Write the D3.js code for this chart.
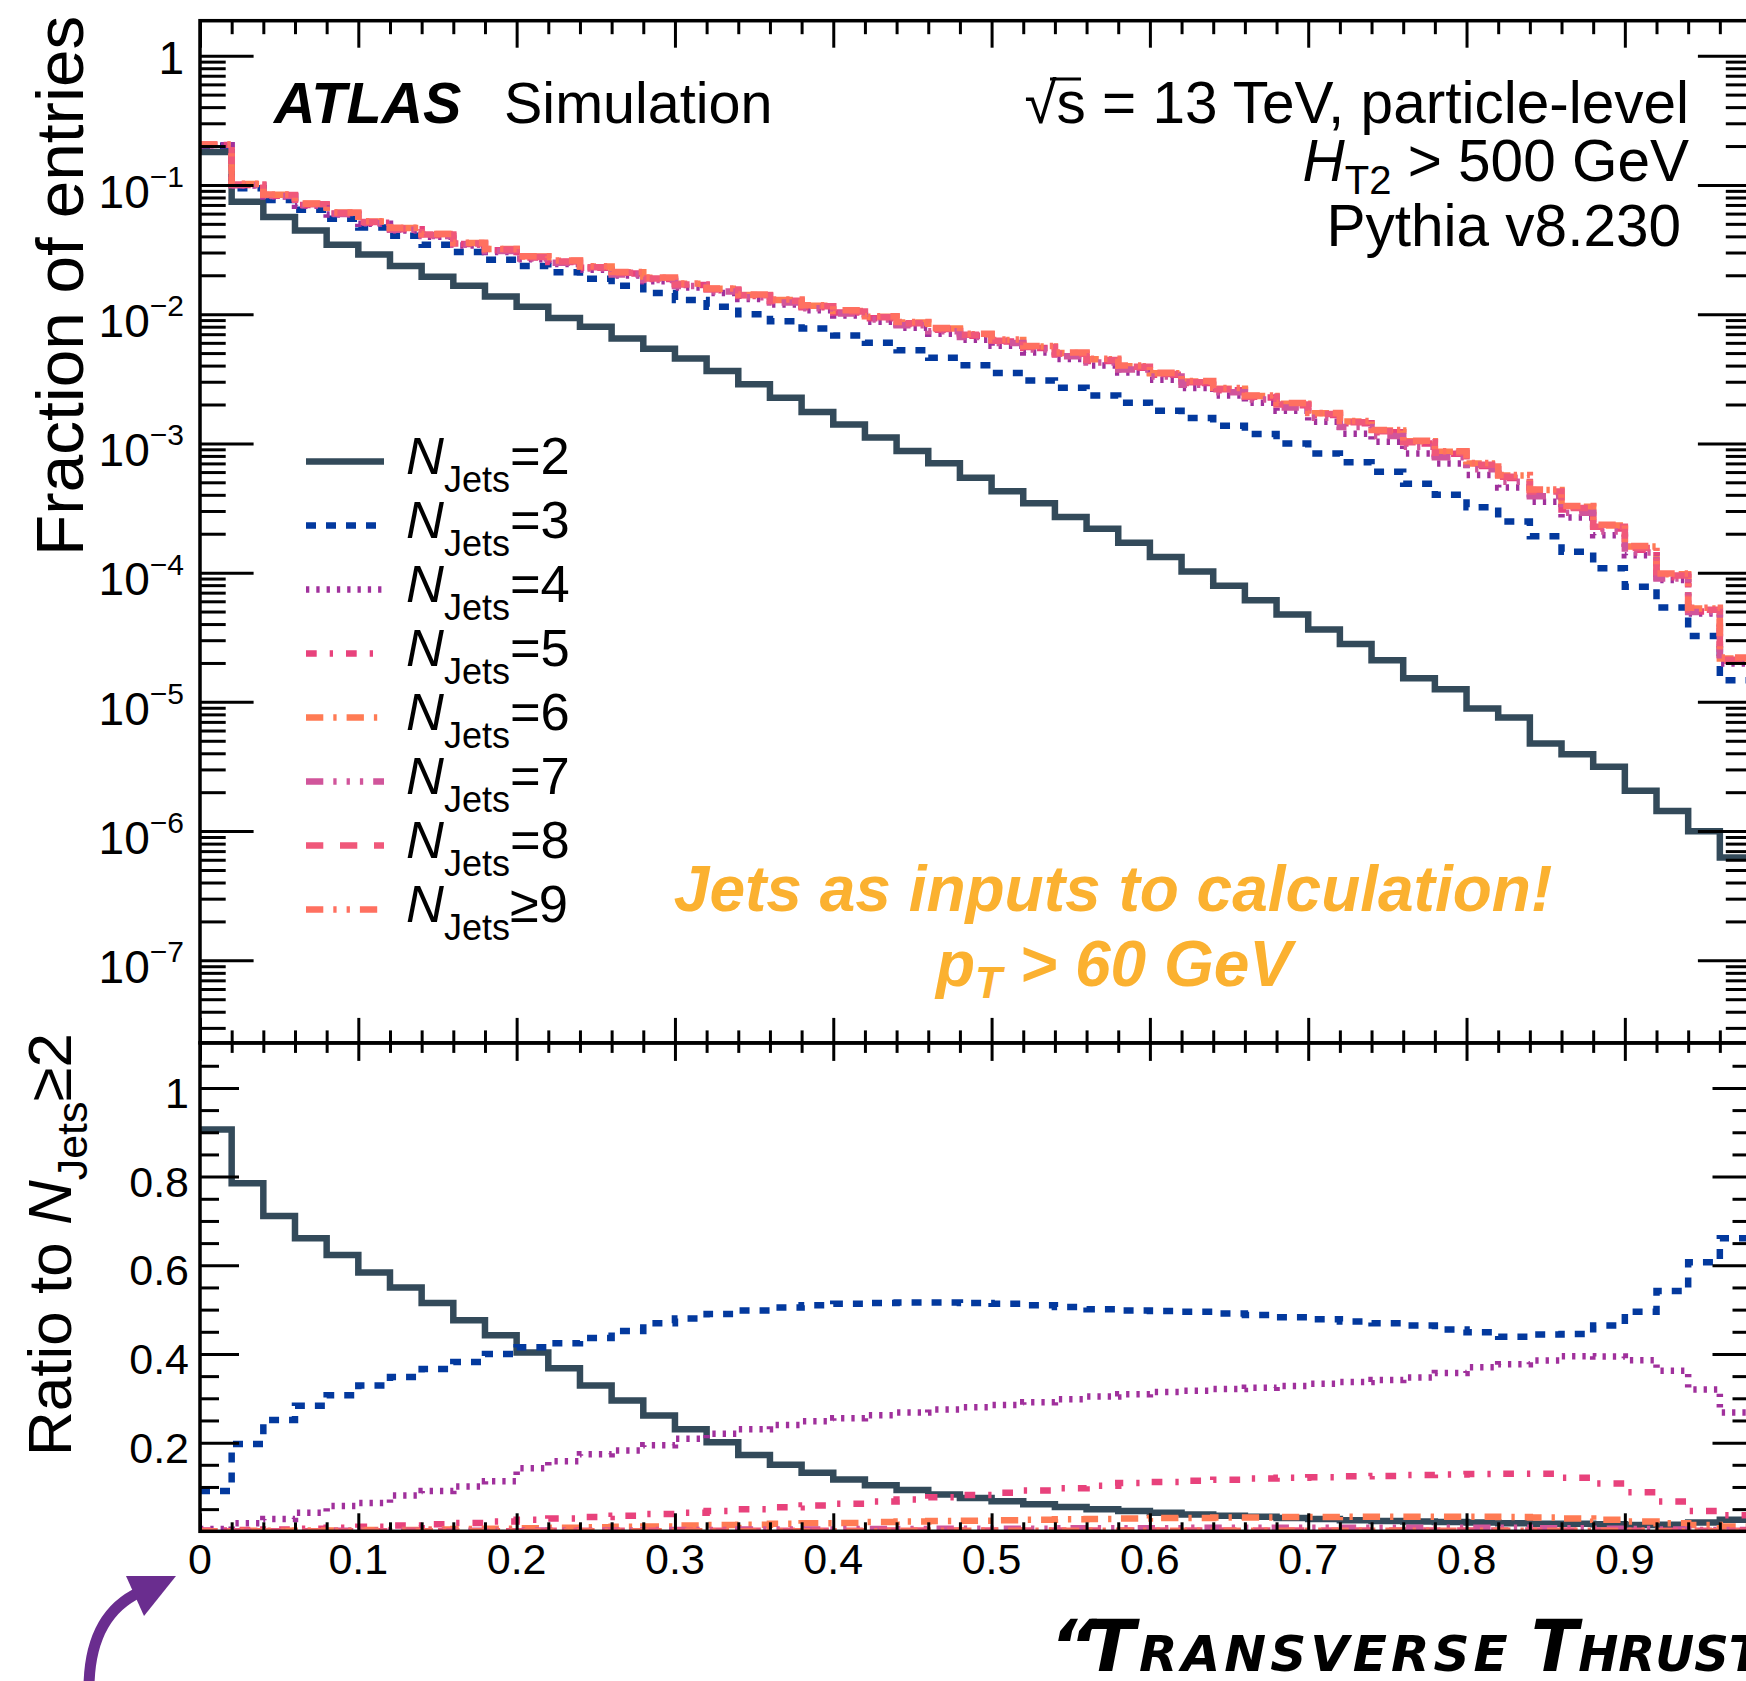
<!DOCTYPE html>
<html><head><meta charset="utf-8">
<script src="https://cdn.jsdelivr.net/npm/d3@7"></script>
<style>
html,body{margin:0;padding:0;background:#fff;}
svg{display:block;}
text{font-family:"Liberation Sans", Arial, Helvetica, sans-serif;fill:#000;}
</style></head><body>
<svg id="c" width="1746" height="1681"></svg>
<script>
// ---------------- DATA ----------------
const binEdges = [0,0.02,0.04,0.06,0.08,0.10,0.12,0.14,0.16,0.18,0.20,0.22,0.24,0.26,0.28,0.30,0.32,0.34,0.36,0.38,0.40,0.42,0.44,0.46,0.48,0.50,0.52,0.54,0.56,0.58,0.60,0.62,0.64,0.66,0.68,0.70,0.72,0.74,0.76,0.78,0.80,0.82,0.84,0.86,0.88,0.90,0.92,0.94,0.96,0.98];

const series = ["NJets=2","NJets=3","NJets=4","NJets=5","NJets=6","NJets=7","NJets=8","NJets>=9"];
const legendNum = ["=2","=3","=4","=5","=6","=7","=8","\u22659"];

// fraction of entries (upper panel)
const frac2 = [0.180,0.0740,0.0566,0.0445,0.0345,0.0290,0.0236,0.0195,0.0166,0.0137,0.0114,0.00935,0.00798,0.00647,0.00541,0.00453,0.00364,0.00287,0.00226,0.00175,0.00140,0.00111,8.73e-4,7.02e-4,5.42e-4,4.27e-4,3.44e-4,2.70e-4,2.19e-4,1.70e-4,1.32e-4,1.02e-4,7.91e-5,6.11e-5,4.74e-5,3.63e-5,2.80e-5,2.10e-5,1.52e-5,1.25e-5,8.89e-6,7.57e-6,4.76e-6,3.94e-6,3.14e-6,2.05e-6,1.43e-6,9.98e-7,6.25e-7];
const frac3 = [0.201,0.0942,0.0764,0.0644,0.0548,0.0468,0.0405,0.0345,0.0303,0.0264,0.0236,0.0211,0.0188,0.0166,0.0146,0.0129,0.0114,0.0100,0.00881,0.00776,0.00684,0.00600,0.00525,0.00459,0.00402,0.00351,0.00307,0.00269,0.00235,0.00206,0.00179,0.00157,0.00137,0.00118,0.00100,8.36e-4,7.16e-4,6.04e-4,4.88e-4,4.00e-4,3.21e-4,2.49e-4,1.91e-4,1.45e-4,1.08e-4,7.76e-5,5.38e-5,3.23e-5,1.47e-5];
const frac4 = [0.203,0.0990,0.0815,0.0690,0.0590,0.0500,0.0445,0.0398,0.0340,0.0303,0.0266,0.0245,0.0221,0.0199,0.0180,0.0161,0.0146,0.0131,0.0119,0.0107,0.00975,0.00875,0.00785,0.00705,0.00635,0.00570,0.00505,0.00450,0.00400,0.00353,0.00311,0.00268,0.00235,0.00206,0.00179,0.00147,0.00119,0.00103,8.37e-4,7.00e-4,5.69e-4,4.56e-4,3.53e-4,2.67e-4,1.95e-4,1.36e-4,8.75e-5,4.83e-5,1.98e-5];
const frac5 = [0.204,0.1000,0.0825,0.0700,0.0600,0.0510,0.0455,0.0408,0.0349,0.0312,0.0274,0.0253,0.0229,0.0206,0.0187,0.0168,0.0153,0.0138,0.0126,0.0113,0.0103,0.00930,0.00840,0.00756,0.00682,0.00615,0.00548,0.00488,0.00435,0.00385,0.00340,0.00293,0.00258,0.00227,0.00197,0.00166,0.00143,0.00122,0.00100,8.30e-4,6.70e-4,5.40e-4,4.15e-4,3.08e-4,2.20e-4,1.50e-4,9.20e-5,5.00e-5,2.08e-5];
const frac6 = [0.205,0.1016,0.0841,0.0716,0.0611,0.0521,0.0465,0.0417,0.0356,0.0319,0.0280,0.0259,0.0234,0.0211,0.0191,0.0172,0.0157,0.0141,0.0129,0.0116,0.0106,0.00955,0.00861,0.00776,0.00700,0.00631,0.00562,0.00501,0.00447,0.00396,0.00349,0.00301,0.00265,0.00233,0.00203,0.00171,0.00148,0.00126,0.00104,8.61e-4,6.98e-4,5.64e-4,4.35e-4,3.24e-4,2.32e-4,1.59e-4,9.73e-5,5.28e-5,2.17e-5];
const frac7 = [0.204,0.0995,0.0820,0.0695,0.0595,0.0505,0.0450,0.0403,0.0345,0.0308,0.0270,0.0250,0.0226,0.0203,0.0184,0.0165,0.0150,0.0135,0.0123,0.0111,0.0101,0.00910,0.00820,0.00738,0.00665,0.00598,0.00532,0.00473,0.00422,0.00373,0.00329,0.00284,0.00249,0.00219,0.00190,0.00158,0.00134,0.00114,9.40e-4,7.80e-4,6.30e-4,5.05e-4,3.90e-4,2.90e-4,2.08e-4,1.43e-4,9.00e-5,4.95e-5,2.05e-5];
const frac8 = [0.205,0.1010,0.0835,0.0710,0.0606,0.0516,0.0461,0.0413,0.0352,0.0316,0.0277,0.0256,0.0231,0.0209,0.0189,0.0170,0.0155,0.0140,0.0127,0.0115,0.0105,0.00945,0.00852,0.00768,0.00692,0.00624,0.00556,0.00495,0.00442,0.00391,0.00345,0.00297,0.00262,0.00230,0.00200,0.00169,0.00146,0.00124,0.00102,8.45e-4,6.85e-4,5.52e-4,4.25e-4,3.16e-4,2.26e-4,1.55e-4,9.50e-5,5.15e-5,2.12e-5];
const frac9 = [0.206,0.1020,0.0845,0.0718,0.0612,0.0523,0.0466,0.0418,0.0357,0.0320,0.0281,0.0260,0.0235,0.0212,0.0192,0.0173,0.0158,0.0142,0.0130,0.0117,0.0107,0.00962,0.00868,0.00782,0.00706,0.00636,0.00567,0.00505,0.00451,0.00400,0.00352,0.00304,0.00268,0.00235,0.00205,0.00172,0.00149,0.00127,0.00105,8.70e-4,7.05e-4,5.70e-4,4.40e-4,3.28e-4,2.35e-4,1.61e-4,9.85e-5,5.35e-5,2.20e-5];

// ratio to NJets>=2 (lower panel)
const ratio2 = [0.906,0.785,0.711,0.661,0.623,0.584,0.550,0.515,0.476,0.442,0.403,0.368,0.329,0.295,0.261,0.230,0.201,0.172,0.150,0.132,0.117,0.104,0.093,0.083,0.075,0.068,0.061,0.055,0.050,0.046,0.042,0.038,0.035,0.033,0.030,0.028,0.025,0.023,0.022,0.021,0.020,0.018,0.017,0.017,0.016,0.014,0.015,0.020,0.026];
const ratio3 = [0.091,0.197,0.251,0.283,0.307,0.329,0.348,0.366,0.382,0.400,0.415,0.424,0.436,0.452,0.469,0.480,0.490,0.498,0.505,0.510,0.513,0.515,0.516,0.516,0.515,0.513,0.510,0.506,0.501,0.498,0.497,0.495,0.491,0.488,0.483,0.478,0.473,0.469,0.464,0.455,0.449,0.439,0.444,0.445,0.464,0.495,0.542,0.607,0.661];
const ratio4 = [0.005,0.018,0.028,0.042,0.057,0.064,0.081,0.091,0.101,0.113,0.142,0.158,0.174,0.182,0.194,0.209,0.220,0.230,0.240,0.248,0.255,0.262,0.268,0.275,0.280,0.285,0.291,0.298,0.304,0.309,0.314,0.317,0.321,0.324,0.328,0.333,0.337,0.341,0.347,0.357,0.370,0.377,0.385,0.395,0.394,0.386,0.362,0.320,0.268];
const ratio5 = [0.002,0.003,0.004,0.006,0.008,0.010,0.013,0.016,0.019,0.022,0.026,0.029,0.032,0.035,0.039,0.042,0.046,0.050,0.054,0.058,0.062,0.067,0.072,0.077,0.082,0.087,0.092,0.097,0.103,0.109,0.111,0.114,0.116,0.119,0.121,0.122,0.124,0.125,0.127,0.128,0.129,0.130,0.130,0.121,0.108,0.088,0.067,0.046,0.036];
const ratio6 = [0.000,0.001,0.001,0.002,0.002,0.003,0.003,0.004,0.005,0.006,0.007,0.008,0.009,0.010,0.011,0.013,0.014,0.015,0.017,0.018,0.019,0.021,0.022,0.023,0.024,0.025,0.026,0.027,0.028,0.029,0.030,0.030,0.031,0.031,0.032,0.032,0.033,0.033,0.033,0.033,0.033,0.032,0.031,0.029,0.026,0.022,0.018,0.014,0.011];
const ratio7 = [0.000,0.000,0.000,0.000,0.001,0.001,0.001,0.001,0.001,0.001,0.002,0.002,0.002,0.002,0.003,0.003,0.003,0.004,0.004,0.004,0.005,0.005,0.005,0.006,0.006,0.006,0.006,0.007,0.007,0.007,0.007,0.008,0.008,0.008,0.008,0.008,0.008,0.008,0.008,0.008,0.008,0.008,0.007,0.007,0.006,0.005,0.004,0.003,0.003];
const ratio8 = [0.000,0.000,0.000,0.000,0.000,0.000,0.000,0.000,0.000,0.000,0.000,0.001,0.001,0.001,0.001,0.001,0.001,0.001,0.001,0.001,0.001,0.002,0.002,0.002,0.002,0.002,0.002,0.002,0.002,0.002,0.002,0.002,0.002,0.002,0.002,0.002,0.002,0.002,0.002,0.002,0.002,0.002,0.002,0.002,0.002,0.001,0.001,0.001,0.001];
const ratio9 = [0.000,0.000,0.000,0.000,0.000,0.000,0.000,0.000,0.000,0.000,0.000,0.000,0.000,0.000,0.000,0.000,0.000,0.000,0.000,0.000,0.000,0.000,0.001,0.001,0.001,0.001,0.001,0.001,0.001,0.001,0.001,0.001,0.001,0.001,0.001,0.001,0.001,0.001,0.001,0.001,0.001,0.001,0.001,0.001,0.001,0.001,0.000,0.000,0.000];

const xMajorTicks = [0,0.1,0.2,0.3,0.4,0.5,0.6,0.7,0.8,0.9];
const xTickLabels = ["0","0.1","0.2","0.3","0.4","0.5","0.6","0.7","0.8","0.9"];
const yLogMajor = [1,1e-1,1e-2,1e-3,1e-4,1e-5,1e-6,1e-7];
const yLogExp = ["", "\u22121","\u22122","\u22123","\u22124","\u22125","\u22126","\u22127"];
const yRatioMajor = [0.2,0.4,0.6,0.8,1];
const yRatioLabels = ["0.2","0.4","0.6","0.8","1"];

// ---------------- STYLE ----------------
const colors = ["#334a5a","#03399e","#a0309c","#e8427c","#ff7b54","#d1559b","#f0587a","#ff7060"];
const dashes = [null,"10,10","3.3,7","10.7,13,3.3,13","17.3,10,3.3,10","17.3,10,3.3,10,3.3,10,3.3,10","17.3,16.7","17.3,10,3.3,10,3.3,10"];
const fracs = [frac2,frac3,frac4,frac5,frac6,frac7,frac8,frac9];
const ratios = [ratio2,ratio3,ratio4,ratio5,ratio6,ratio7,ratio8,ratio9];

const svg = d3.select("#c");
svg.append("rect").attr("width",1746).attr("height",1681).attr("fill","#fff");

const X0=200, X1=1751.5, TOP=20.7, MID=1042.9, BOT=1531.3;
const x = d3.scaleLinear().domain([0,0.98]).range([X0,X1]);
const yTop = d3.scaleLog().domain([2.296e-8,1.866]).range([MID,TOP]);
const yBot = d3.scaleLinear().domain([0,1.1]).range([BOT,MID+0.7]);

const defs = svg.append("defs");
defs.append("clipPath").attr("id","clipTop").append("rect").attr("x",X0).attr("y",TOP).attr("width",X1-X0).attr("height",MID-TOP);
defs.append("clipPath").attr("id","clipBot").append("rect").attr("x",X0).attr("y",MID).attr("width",X1-X0).attr("height",BOT-MID);

function stepData(vals){
  const pts = vals.map((v,i)=>({e:binEdges[i],v}));
  pts.push({e:binEdges[vals.length],v:vals[vals.length-1]});
  return pts;
}
const lineTop = d3.line().x(d=>x(d.e)).y(d=>yTop(d.v)).curve(d3.curveStepAfter);
const lineBot = d3.line().x(d=>x(d.e)).y(d=>yBot(d.v)).curve(d3.curveStepAfter);

const LW = 6.5;
const gTop = svg.append("g").attr("clip-path","url(#clipTop)");
fracs.forEach((f,i)=>{
  gTop.append("path").datum(stepData(f)).attr("d",lineTop)
    .attr("fill","none").attr("stroke",colors[i]).attr("stroke-width",LW)
    .attr("stroke-dasharray",dashes[i]).attr("stroke-linejoin","miter");
});
const gBot = svg.append("g").attr("clip-path","url(#clipBot)");
ratios.forEach((f,i)=>{
  gBot.append("path").datum(stepData(f)).attr("d",lineBot)
    .attr("fill","none").attr("stroke",colors[i]).attr("stroke-width",LW)
    .attr("stroke-dasharray",dashes[i]).attr("stroke-linejoin","miter");
});

// ---------------- AXES ----------------
const xMinor = d3.range(0,0.9801,0.02).filter(v=>!xMajorTicks.some(m=>Math.abs(m-v)<1e-6));
const logMinor = [];
for (let k=0;k<=7;k++) for (let m=2;m<=9;m++){ const v=m*Math.pow(10,-(k+1)); if(v>=2.296e-8) logMinor.push(v); }
const ratioMinor = d3.range(0.05,1.1,0.05).filter(v=>!yRatioMajor.some(m=>Math.abs(m-v)<1e-6));

function drawAxis(axis, tx, ty){
  const g = svg.append("g").attr("transform",`translate(${tx},${ty})`).call(axis);
  g.select(".domain").remove();
  g.selectAll("text").remove();
  g.selectAll("line").attr("stroke","#000").attr("stroke-width",3);
  return g;
}
// upper panel
drawAxis(d3.axisBottom(x).tickValues(xMajorTicks).tickSize(27),0,TOP);
drawAxis(d3.axisBottom(x).tickValues(xMinor).tickSize(13.5),0,TOP);
drawAxis(d3.axisTop(x).tickValues(xMajorTicks).tickSize(25),0,MID);
drawAxis(d3.axisTop(x).tickValues(xMinor).tickSize(12.5),0,MID);
drawAxis(d3.axisRight(yTop).tickValues(yLogMajor).tickSize(53.6),X0,0);
drawAxis(d3.axisRight(yTop).tickValues(logMinor).tickSize(25.7),X0,0);
drawAxis(d3.axisLeft(yTop).tickValues(yLogMajor).tickSize(53.6),X1,0);
drawAxis(d3.axisLeft(yTop).tickValues(logMinor).tickSize(25.7),X1,0);
// lower panel
drawAxis(d3.axisBottom(x).tickValues(xMajorTicks).tickSize(18),0,MID);
drawAxis(d3.axisBottom(x).tickValues(xMinor).tickSize(10),0,MID);
drawAxis(d3.axisTop(x).tickValues(xMajorTicks).tickSize(18),0,BOT);
drawAxis(d3.axisTop(x).tickValues(xMinor).tickSize(9),0,BOT);
drawAxis(d3.axisRight(yBot).tickValues(yRatioMajor).tickSize(39),X0,0);
drawAxis(d3.axisRight(yBot).tickValues(ratioMinor).tickSize(19),X0,0);
drawAxis(d3.axisLeft(yBot).tickValues(yRatioMajor).tickSize(39),X1,0);
drawAxis(d3.axisLeft(yBot).tickValues(ratioMinor).tickSize(19),X1,0);

// frames
svg.append("rect").attr("x",X0).attr("y",TOP).attr("width",X1-X0).attr("height",MID-TOP)
  .attr("fill","none").attr("stroke","#000").attr("stroke-width",3.5);
svg.append("rect").attr("x",X0).attr("y",MID).attr("width",X1-X0).attr("height",BOT-MID)
  .attr("fill","none").attr("stroke","#000").attr("stroke-width",3.5);

// tick labels
svg.append("g").selectAll("text").data(xMajorTicks).join("text")
  .attr("x",d=>x(d)).attr("y",1574).attr("text-anchor","middle").attr("font-size",43)
  .text((d,i)=>xTickLabels[i]);
svg.append("g").selectAll("text").data(yRatioMajor).join("text")
  .attr("x",189).attr("y",d=>yBot(d)+20).attr("text-anchor","end").attr("font-size",43)
  .text((d,i)=>yRatioLabels[i]);
const yl = svg.append("g").selectAll("text").data(yLogMajor).join("text")
  .attr("x",184).attr("text-anchor","end").attr("font-size",46)
  .attr("y",(d,i)=> i===0 ? yTop(d)+18.3 : yTop(d)+22.7);
yl.each(function(d,i){
  const t = d3.select(this);
  if(i===0){ t.text("1"); return; }
  t.append("tspan").text("10");
  t.append("tspan").attr("font-size",30).attr("dy",-20.7).text(yLogExp[i]);
});

// axis titles
svg.append("text").attr("transform","translate(83,556) rotate(-90)")
  .attr("font-size",67.5).text("Fraction of entries");
const rt = svg.append("text").attr("transform","translate(71,1456) rotate(-90)").attr("font-size",62);
rt.append("tspan").text("Ratio to ");
rt.append("tspan").attr("font-style","italic").text("N");
rt.append("tspan").attr("font-size",43).attr("dy",16).text("Jets");
rt.append("tspan").attr("dy",-16).text("\u22652");

// ATLAS label
svg.append("text").attr("x",274).attr("y",122.5).attr("font-size",57.5)
  .attr("font-weight","bold").attr("font-style","italic").text("ATLAS");
svg.append("text").attr("x",504).attr("y",122.5).attr("font-size",57.5).text("Simulation");

// top-right text
const RX = 1689;
svg.append("text").attr("x",RX).attr("y",122.5).attr("font-size",58.5).attr("text-anchor","end")
  .text("\u221As = 13 TeV, particle-level");
svg.append("line").attr("x1",1050).attr("x2",1081).attr("y1",79).attr("y2",79).attr("stroke","#000").attr("stroke-width",3);
const t2 = svg.append("text").attr("x",RX).attr("y",181).attr("font-size",58.5).attr("text-anchor","end");
t2.append("tspan").attr("font-style","italic").text("H");
t2.append("tspan").attr("font-size",40).attr("dy",13).text("T2");
t2.append("tspan").attr("dy",-13).text(" > 500 GeV");
svg.append("text").attr("x",RX-8).attr("y",246).attr("font-size",58.5).attr("text-anchor","end").text("Pythia v8.230");

// legend
const legY0 = 461.5, legDY = 64;
series.forEach((s,i)=>{
  const y = legY0 + i*legDY;
  svg.append("line").attr("x1",306).attr("x2",384).attr("y1",y).attr("y2",y)
    .attr("stroke",colors[i]).attr("stroke-width",LW).attr("stroke-dasharray",dashes[i]);
  const t = svg.append("text").attr("x",406).attr("y",y+12.3).attr("font-size",52.5);
  t.append("tspan").attr("font-style","italic").text("N");
  t.append("tspan").attr("font-size",36).attr("dy",18).text("Jets");
  t.append("tspan").attr("dy",-18).text(legendNum[i]);
});

// annotation
const orange = "#fbb130";
svg.append("text").attr("x",1113).attr("y",911).attr("text-anchor","middle").attr("font-size",64)
  .attr("font-weight","bold").attr("font-style","italic").style("fill",orange)
  .text("Jets as inputs to calculation!");
const pt = svg.append("text").attr("x",1114).attr("y",986).attr("text-anchor","middle").attr("font-size",64)
  .attr("font-weight","bold").attr("font-style","italic").style("fill",orange);
pt.append("tspan").text("p");
pt.append("tspan").attr("font-size",44).attr("dy",12).text("T");
pt.append("tspan").attr("dy",-12).text(" > 60 GeV");

// arrow
const purple = "#6a2d8f";
svg.append("path").attr("d","M 89 1685 C 90 1640, 105 1608, 140 1592")
  .attr("fill","none").attr("stroke",purple).attr("stroke-width",11);
svg.append("path").attr("d","M 176 1576 L 126 1576 L 144 1616 Z").attr("fill",purple);

// handwritten axis title (runs off the right edge, as in the reference)
const hw = svg.append("text").attr("x",1050).attr("y",1671).attr("font-size",72)
  .style("font-family","'DejaVu Sans'").attr("font-weight","bold").attr("font-style","italic")
  .style("font-variant","small-caps");
hw.append("tspan").text("\u201C");
hw.append("tspan").attr("x",1086).style("letter-spacing","4px").text("Transverse");
hw.append("tspan").attr("x",1531).attr("textLength",275).attr("lengthAdjust","spacingAndGlyphs").text("Thrust\u201D");
</script>
</body></html>
